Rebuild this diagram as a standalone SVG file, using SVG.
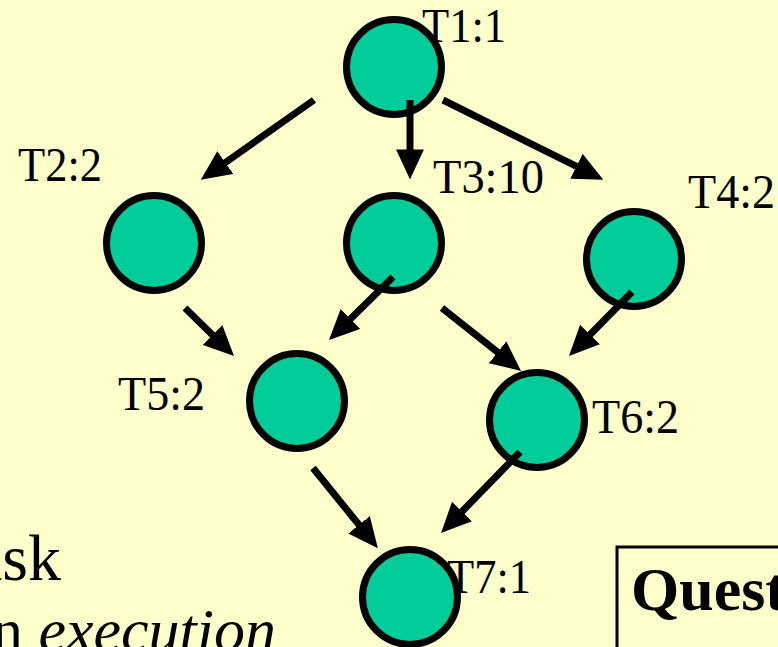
<svg xmlns="http://www.w3.org/2000/svg" width="778" height="647" viewBox="0 0 778 647">
<style>
.bg{fill:#FFFFCC}
.node{fill:#00CC99;stroke:#000;stroke-width:7}
.lbl{font-family:"Liberation Serif","Times New Roman",serif;font-size:49px;fill:#000}
.body{font-family:"Liberation Serif","Times New Roman",serif;fill:#000}
.edge{stroke:#000;stroke-width:7;fill:none;marker-end:url(#ah)}
</style>
<defs>
<marker id="ah" markerUnits="userSpaceOnUse" markerWidth="30" markerHeight="28" viewBox="0 0 28 26" refX="8" refY="13" orient="auto">
<path d="M0,0 L28,13 L0,26 z" fill="#000"/>
</marker>
</defs>
<rect class="bg" x="0" y="0" width="778" height="647"/>
<g id="bodytext">
<text class="body" x="-27" y="580" font-size="66">ask</text>
<text class="body" x="-8" y="651" font-size="62">n <tspan font-style="italic">execution</tspan></text>
</g>
<g id="question">
<rect x="617" y="547" width="200" height="140" fill="#FFFFCC" stroke="#000" stroke-width="3"/>
<text class="body" x="631" y="610" font-size="62" font-weight="bold">Quest</text>
</g>
<g id="nodes">
<g id="T1"><text class="lbl" x="422" y="42" textLength="84" lengthAdjust="spacingAndGlyphs">T1:1</text><circle class="node" cx="394" cy="67" r="47.5"/></g>
<g id="T2"><text class="lbl" x="18" y="181" textLength="84" lengthAdjust="spacingAndGlyphs">T2:2</text><circle class="node" cx="154" cy="243" r="47.5"/></g>
<g id="T3"><text class="lbl" x="433" y="193" textLength="111" lengthAdjust="spacingAndGlyphs">T3:10</text><circle class="node" cx="394" cy="243" r="47.5"/></g>
<g id="T4"><text class="lbl" x="688" y="208" textLength="87" lengthAdjust="spacingAndGlyphs">T4:2</text><circle class="node" cx="634" cy="259" r="47.5"/></g>
<g id="T5"><text class="lbl" x="118" y="410" textLength="87" lengthAdjust="spacingAndGlyphs">T5:2</text><circle class="node" cx="297" cy="401" r="47.5"/></g>
<g id="T6"><text class="lbl" x="592" y="433" textLength="87" lengthAdjust="spacingAndGlyphs">T6:2</text><circle class="node" cx="537" cy="420" r="47.5"/></g>
<g id="T7"><text class="lbl" x="447" y="593" textLength="84" lengthAdjust="spacingAndGlyphs">T7:1</text><circle class="node" cx="410" cy="597" r="47.5"/></g>
</g>
<g id="connectors">
<line class="edge" x1="314" y1="100" x2="218.3" y2="167.5"/>
<line class="edge" x1="410" y1="100" x2="410" y2="158"/>
<line class="edge" x1="443" y1="100" x2="584.1" y2="170.1"/>
<line class="edge" x1="185" y1="308" x2="218.7" y2="341"/>
<line class="edge" x1="393" y1="277" x2="344.3" y2="325"/>
<line class="edge" x1="442" y1="308" x2="504.3" y2="357.6"/>
<line class="edge" x1="632" y1="292" x2="584" y2="340.7"/>
<line class="edge" x1="313" y1="468" x2="364.4" y2="531.5"/>
<line class="edge" x1="520" y1="452" x2="456" y2="517.7"/>
</g>
</svg>
